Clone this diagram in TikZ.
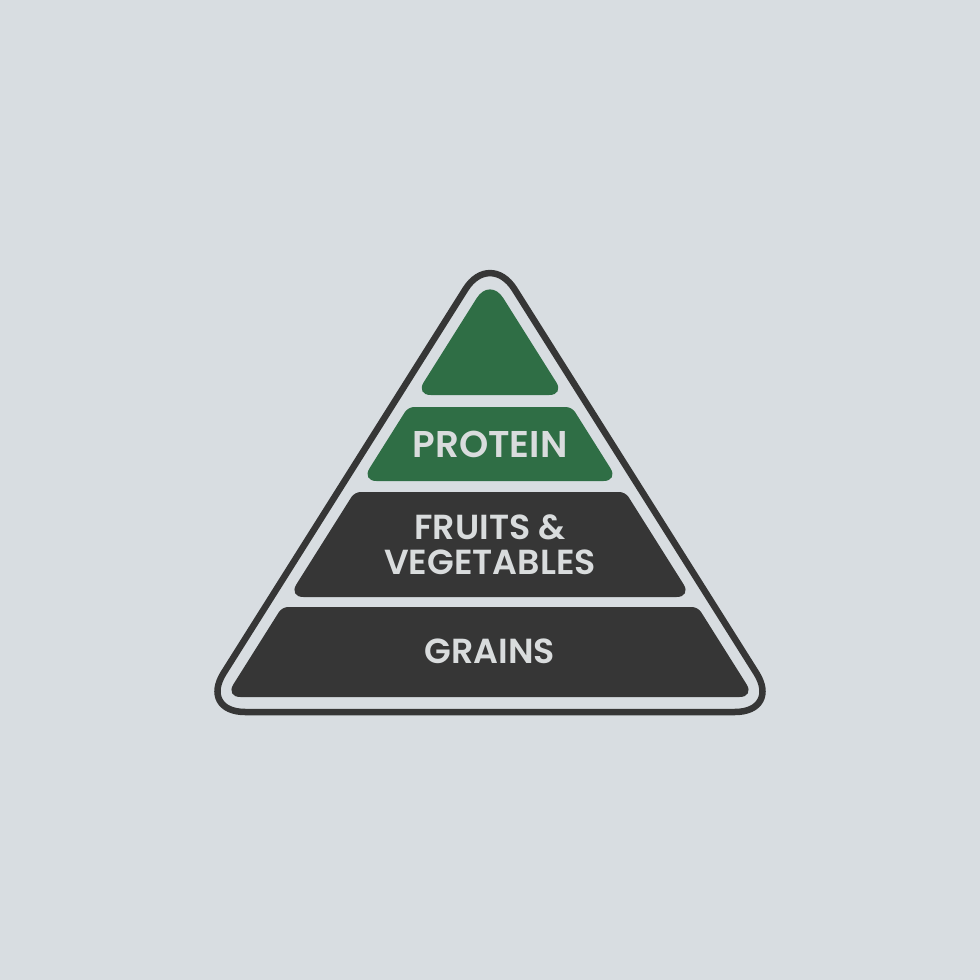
\documentclass[tikz,border=0pt]{standalone}
\usepackage{fontspec}
\setmainfont{Poppins}
\newfontfamily\labelfont{Poppins SemiBold}
\usepackage{xcolor}
\usepackage{tikz}
\usetikzlibrary{positioning}

\definecolor{bgGray}{HTML}{D8DDE1}
\definecolor{darkBand}{HTML}{363636}
\definecolor{greenBand}{HTML}{2F6E45}
\definecolor{labelGray}{HTML}{D9DCDD}

\begin{document}
\begin{tikzpicture} [label/.style = {text = labelGray, font = \labelfont\fontsize{9.9}{11}\selectfont,
        align = center, inner sep = 0pt}]

        % background
        \fill [bgGray] (0,0) rectangle (9.8,9.8);
        \useasboundingbox (0,0) rectangle (9.8,9.8);

        % outer frame
        \draw [darkBand, line width = 0.065cm, rounded corners = 0.46cm]
            (4.90,2.68) -- (1.991,2.68) -- (4.90,7.297) -- (7.809,2.68) -- cycle;

        % bands
        \fill [greenBand]
            (4.90,5.85) [rounded corners = 0.15cm] -- (4.157,5.85)
            [rounded corners = 0.25cm] -- (4.90,7.03)
            [rounded corners = 0.15cm] -- (5.643,5.85) -- cycle;
        \fill [greenBand]
            (4.90,5.73) [rounded corners = 0.06cm] -- (5.719,5.73)
            [rounded corners = 0.15cm] -- (6.185,4.99) -- (3.615,4.99)
            [rounded corners = 0.06cm] -- (4.081,5.73) -- cycle;
        \fill [darkBand]
            (4.90,4.88) [rounded corners = 0.06cm] -- (6.254,4.88)
            [rounded corners = 0.15cm] -- (6.916,3.83) -- (2.884,3.83)
            [rounded corners = 0.06cm] -- (3.546,4.88) -- cycle;
        \fill [darkBand]
            (4.90,3.73) [rounded corners = 0.06cm] -- (6.979,3.73)
            [rounded corners = 0.15cm] -- (7.546,2.83) -- (2.254,2.83)
            [rounded corners = 0.06cm] -- (2.821,3.73) -- cycle;

        % labels
        \node (protein) [label, font = \labelfont\fontsize{10.6}{12}\selectfont]
            at (4.90,5.36) {PROTEIN};
        \node (fruits) [label] at (4.90,4.35) {FRUITS \&\\[-1pt] VEGETABLES};
        \node (grains) [label] at (4.90,3.29) {GRAINS};

    \end{tikzpicture}
\end{document}
